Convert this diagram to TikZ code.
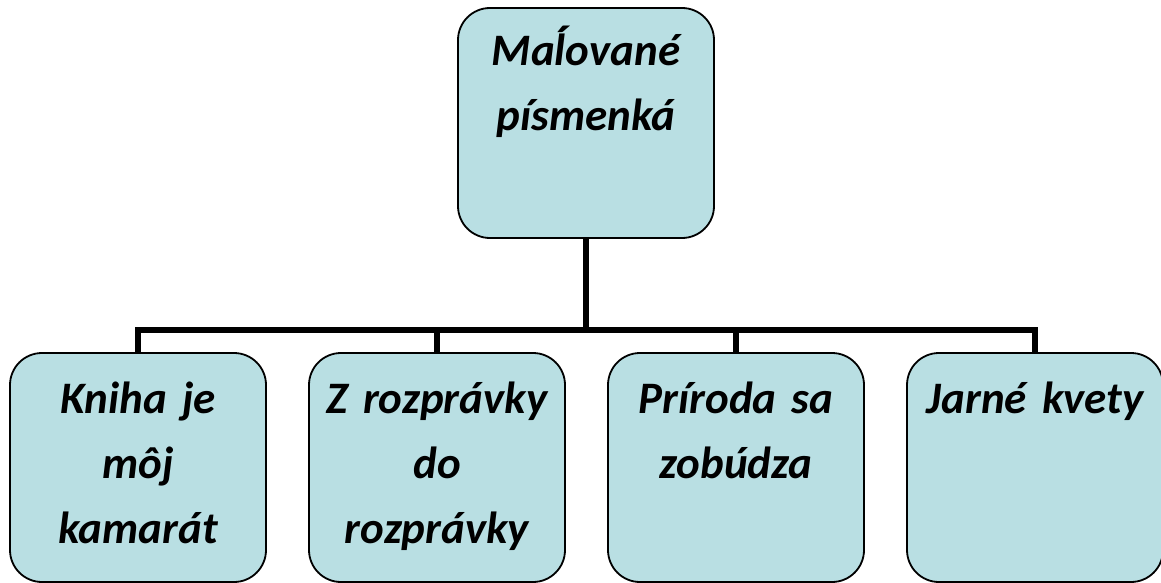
\documentclass[tikz,border=0pt]{standalone}
\usepackage{fontspec}
\setmainfont{Carlito}
\usepackage{xcolor}
\usepackage{tikz}

\definecolor{boxblue}{RGB}{185,223,227}

\begin{document}
\begin{tikzpicture}[x=0.5pt, y=-0.5pt,
        topic/.style={draw=black, line width=0.9pt, fill=boxblue,
            rounded corners=16pt, inner sep=0pt, text width=128pt, align=center,
            text height=30pt, text depth=84.5pt,
            font=\fontsize{22.5}{32.5}\selectfont\bfseries\itshape},
        link/.style={draw=black, line width=3pt}]
        \useasboundingbox (0,0) rectangle (1161,583);
        % main topic
        \node[topic, text height=29pt, text depth=86pt] (top) at (586,123)
        {Maĺované\\písmenká};
        % the four parts
        \node[topic] (kniha) at (138,467.5) {Kniha je\\môj\\kamarát};
        \node[topic] (rozpr) at (437,467.5) {Z rozprávky\\do\\rozprávky};
        \node[topic] (prir) at (736,467.5) {Príroda sa\\zobúdza};
        \node[topic] (jar) at (1035,467.5) {Jarné kvety};
        % connectors
        \coordinate (bus) at (586,330);
        \draw[link] (top.south) -- (bus);
        \foreach \part in {kniha, rozpr, prir, jar}
            \draw[link] (bus) -| (\part.north);
    \end{tikzpicture}
\end{document}
